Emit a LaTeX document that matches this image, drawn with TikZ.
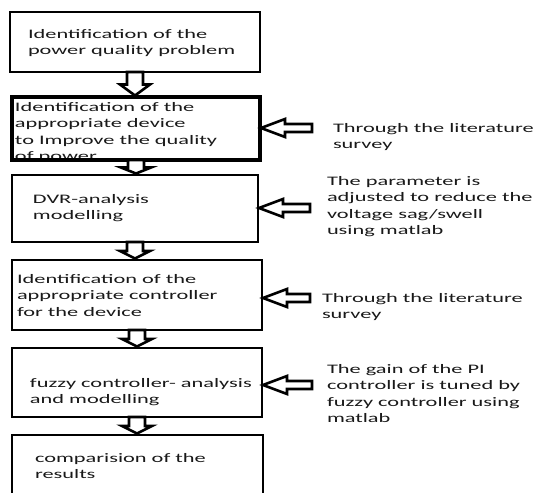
\documentclass[tikz,border=0pt]{standalone}
\usepackage{fontspec}
\setmainfont{Carlito}[FakeStretch=1.72]
\usetikzlibrary{calc}
\tikzset{
  box/.style={draw=black, line width=2.6pt, inner sep=0pt, outer sep=0pt},
  thickbox/.style={box, line width=3.4pt},
  txt/.style={anchor=north west, inner sep=0pt, outer sep=0pt, align=left,
    text=black!90, font=\fontsize{13}{16.5}\selectfont},
  blk/.style={draw=black, fill=white, line width=2.6pt, line join=miter},
}
% hollow block arrow pointing down from node #1 to node #2
\newcommand\downblock[2]{%
  \draw[blk] let \p1=(#1.south), \p2=(#2.north), \n1={(\y1-\y2)} in
    (\x1-8pt,\y1) -- (\x1+8pt,\y1) -- (\x1+8pt,\y1-0.5*\n1) -- (\x1+15pt,\y1-0.5*\n1)
    -- (\x1,\y2+1.5pt) -- (\x1-15pt,\y1-0.5*\n1) -- (\x1-8pt,\y1-0.5*\n1) -- cycle;}
% hollow block arrow pointing left, from tail coordinate #2 to east side of box #1
\newcommand\leftblock[2]{%
  \draw[blk] let \p1=($(#1.east |- #2)+(1pt,0)$), \p2=(#2) in
    (\x1,\y1) -- (\x1+24pt,\y1+9pt) -- (\x1+24pt,\y1+4pt) -- (\x2,\y1+4pt)
    -- (\x2,\y1-4pt) -- (\x1+24pt,\y1-4pt) -- (\x1+24pt,\y1-9pt) -- cycle;}
\begin{document}
\begin{tikzpicture}[x=1pt,y=-1pt]
\clip (0,0) rectangle (542,493);
\fill[white] (0,0) rectangle (542,493);

% texts inside boxes
\node[txt] (t1) at (28,29) {Identification of the\\power quality problem};
\begin{scope}
  \clip (12,97) rectangle (260,160);
  \node[txt] (t2) at (15,102) {Identification of the\\appropriate device\\to Improve the quality\\of power};
\end{scope}
\node[txt] (t3) at (33,194) {DVR-analysis\\modelling};
\node[txt] (t4) at (17,274) {Identification of the\\appropriate controller\\for the device};
\node[txt] (t5) at (30,378) {fuzzy controller- analysis\\and modelling};
\node[txt] (t6) at (35,453) {comparision of the\\results};

% boxes
\node[box, minimum width=250pt, minimum height=60pt] (b1) at (135,42) {};
\node[thickbox, minimum width=248pt, minimum height=63pt] (b2) at (136,128.5) {};
\node[box, minimum width=246pt, minimum height=67pt] (b3) at (135,208.5) {};
\node[box, minimum width=250pt, minimum height=70pt] (b4) at (137,295) {};
\node[box, minimum width=250pt, minimum height=69pt] (b5) at (137,382.5) {};
\node[box, minimum width=251pt, minimum height=75pt] (b6) at (137.5,472.5) {};

% side texts
\node[txt] (s1) at (333,123) {Through the literature\\survey};
\node[txt] (s2) at (327,176) {The parameter is\\adjusted to reduce the\\voltage sag/swell\\using matlab};
\node[txt] (s3) at (322,293) {Through the literature\\survey};
\node[txt] (s4) at (327,364) {The gain of the PI\\controller is tuned by\\fuzzy controller using\\matlab};

% down arrows
\downblock{b1}{b2}
\downblock{b2}{b3}
\downblock{b3}{b4}
\downblock{b4}{b5}
\downblock{b5}{b6}

% left arrows
\coordinate (a2) at (312,128);
\coordinate (a3) at (310,208);
\coordinate (a4) at (310,298);
\coordinate (a5) at (312,385);
\leftblock{b2}{a2}
\leftblock{b3}{a3}
\leftblock{b4}{a4}
\leftblock{b5}{a5}
\end{tikzpicture}
\end{document}
